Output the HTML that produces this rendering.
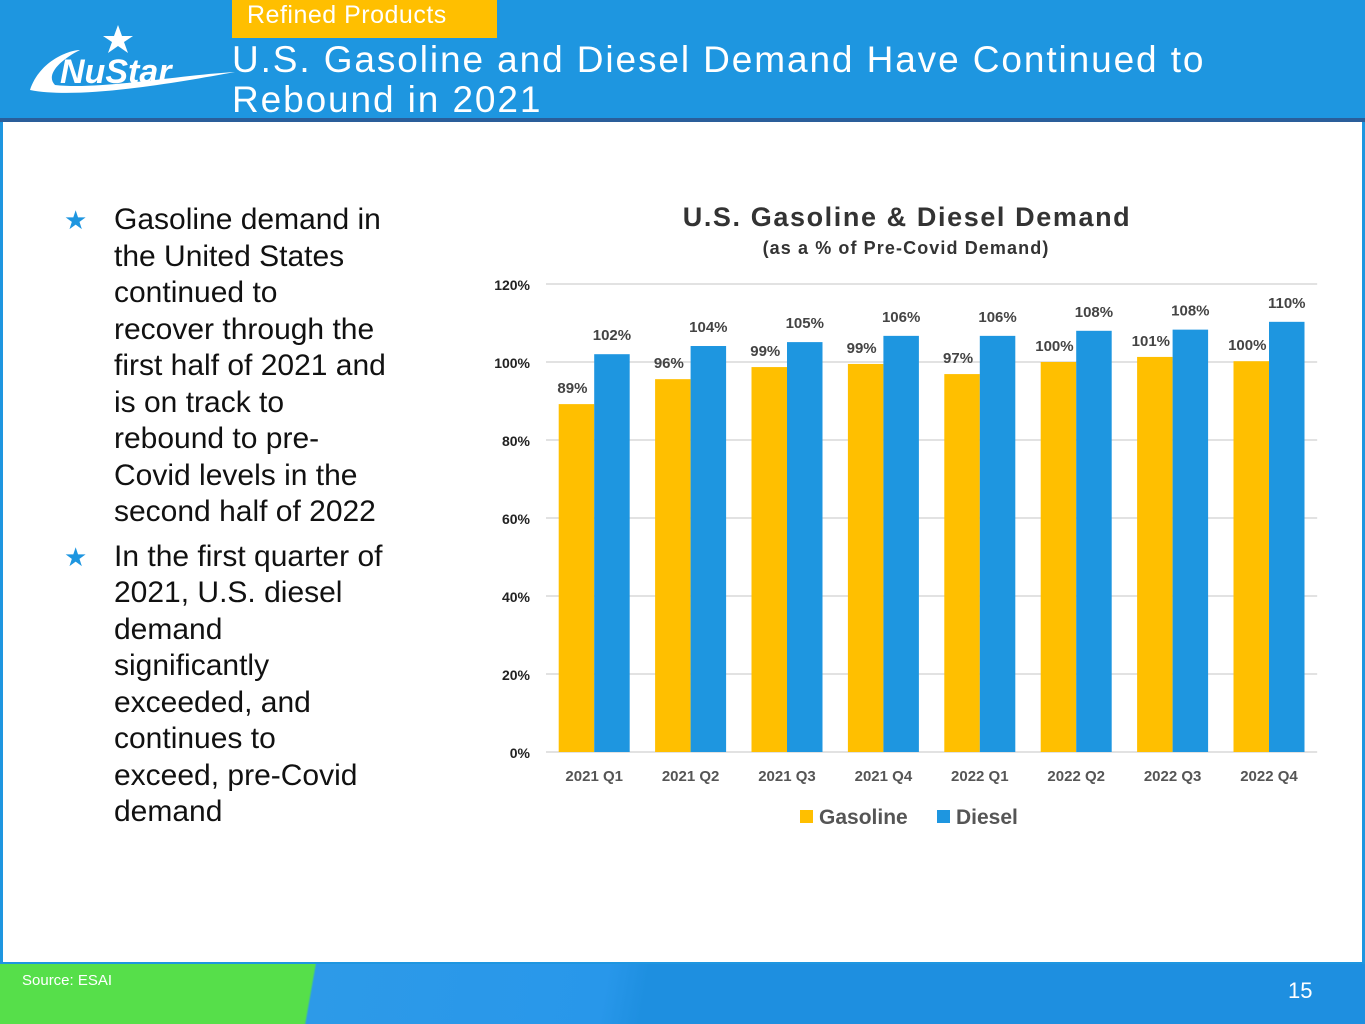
<!DOCTYPE html>
<html><head><meta charset="utf-8">
<style>
body{margin:0;width:1365px;height:1024px;overflow:hidden;background:#fff;font-family:"Liberation Sans",sans-serif;position:relative}
.abs{position:absolute}
</style></head><body>
<div class="abs" style="left:0;top:0;width:1365px;height:1024px;background:#1e96e0"></div>
<div class="abs" style="left:3px;top:122px;width:1359px;height:840px;background:#fff"></div>
<div class="abs" style="left:0;top:118px;width:1365px;height:4px;background:#2a5e9a"></div>
<div class="abs" style="left:232px;top:0;width:265px;height:38px;background:#ffbf00;color:#fff;font-size:25px;line-height:30px;padding-left:15px;box-sizing:border-box;letter-spacing:0.5px">Refined Products</div>
<div class="abs" style="left:232px;top:40px;color:#fff;font-size:37px;line-height:40px;letter-spacing:1.9px;white-space:nowrap">U.S. Gasoline and Diesel Demand Have Continued to<br>Rebound in 2021</div>
<svg class="abs" style="left:20px;top:20px" width="215" height="80">
<path d="M10 70 C20 40 50 30 60 30 C40 40 25 55 35 65 C80 70 160 55 215 52 C160 62 60 80 10 70Z" fill="#fff"/>
<polygon points="98,5 102,16 113,16 104,22 108,33 98,26 88,33 92,22 83,16 94,16" fill="#fff"/>
<text x="40" y="63" font-size="34" font-weight="bold" fill="#fff" font-family="Liberation Sans" font-style="italic">NuStar</text>
</svg>
<div class="abs" style="left:64px;top:202px;width:420px;font-size:30px;line-height:36.5px;color:#111;white-space:nowrap">
<div style="position:relative;padding-left:50px;margin-bottom:8px"><span style="position:absolute;left:0;color:#1e96e0;font-size:26px">★</span>Gasoline demand in<br>the United States<br>continued to<br>recover through the<br>first half of 2021 and<br>is on track to<br>rebound to pre-<br>Covid levels in the<br>second half of 2022</div>
<div style="position:relative;padding-left:50px"><span style="position:absolute;left:0;color:#1e96e0;font-size:26px">★</span>In the first quarter of<br>2021, U.S. diesel<br>demand<br>significantly<br>exceeded, and<br>continues to<br>exceed, pre-Covid<br>demand</div>
</div>
<svg class="abs" id="chart" style="left:0;top:0" width="1365" height="1024"></svg>
<div class="abs" style="left:0;top:964px;width:1365px;height:60px;background:linear-gradient(100deg,#56df4a 0,#56df4a 310px,#2d9ae8 312px,#2897ea 600px,#1e8fe0 640px,#1e8fe0 100%)"></div>
<div class="abs" style="left:22px;top:972px;color:#fff;font-size:15px">Source: ESAI</div>
<div class="abs" style="left:1288px;top:978px;color:#fff;font-size:22px">15</div>
<script>
const categories=["2021 Q1","2021 Q2","2021 Q3","2021 Q4","2022 Q1","2022 Q2","2022 Q3","2022 Q4"];
const gasoline=[89.2,95.6,98.7,99.5,96.9,100,101.3,100.2];
const diesel=[102,104.1,105.1,106.7,106.7,108,108.3,110.3];
const gasLabels=["89%","96%","99%","99%","97%","100%","101%","100%"];
const dieselLabels=["102%","104%","105%","106%","106%","108%","108%","110%"];
const yTicks=[0,20,40,60,80,100,120];
const svg=document.getElementById('chart');const NS="http://www.w3.org/2000/svg";
const x0=546,cw=96.4,y0=752,ppu=3.9,bw=35.5;
const y=v=>y0-v*ppu;
function mk(t,a,txt){const e=document.createElementNS(NS,t);for(const k in a)e.setAttribute(k,a[k]);if(txt!=null)e.textContent=txt;svg.appendChild(e);return e;}
let e;
e=mk('text',{x:907,y:226,'text-anchor':'middle','font-size':27,'font-weight':'bold',fill:'#333','letter-spacing':'1.6'},'U.S. Gasoline & Diesel Demand');

e=mk('text',{x:906,y:254,'text-anchor':'middle','font-size':18,'font-weight':'bold',fill:'#333','letter-spacing':'1.1'},'(as a % of Pre-Covid Demand)');

yTicks.forEach(t=>{
 e=mk('line',{x1:x0,x2:x0+cw*8,y1:y(t),y2:y(t),stroke:'#d9d9d9','stroke-width':1.5});
 
 e=mk('text',{x:530,y:y(t)+6,'text-anchor':'end','font-size':14,'font-weight':'bold',fill:'#222'},t+'%');
 
});
categories.forEach((c,i)=>{
 const cx=x0+cw*i+cw/2;
 e=mk('rect',{x:cx-bw,y:y(gasoline[i]),width:bw,height:gasoline[i]*ppu,fill:'#ffbf00'});
 
 e=mk('rect',{x:cx,y:y(diesel[i]),width:bw,height:diesel[i]*ppu,fill:'#1e96e0'});
 
 e=mk('text',{x:cx-bw/2-4,y:y(gasoline[i])-11,'text-anchor':'middle','font-size':15,'font-weight':'bold',fill:'#444'},gasLabels[i]);
 
 e=mk('text',{x:cx+bw/2,y:y(diesel[i])-14,'text-anchor':'middle','font-size':15,'font-weight':'bold',fill:'#444'},dieselLabels[i]);
 
 e=mk('text',{x:cx,y:781,'text-anchor':'middle','font-size':15,'font-weight':'bold',fill:'#555'},c);
 
});
e=mk('rect',{x:800,y:810,width:13,height:13,fill:'#ffbf00'});
e=mk('text',{x:819,y:824,'font-size':21,'font-weight':'bold',fill:'#555'},'Gasoline');
e=mk('rect',{x:937,y:810,width:13,height:13,fill:'#1e96e0'});
e=mk('text',{x:956,y:824,'font-size':21,'font-weight':'bold',fill:'#555'},'Diesel');
</script>
</body></html>
